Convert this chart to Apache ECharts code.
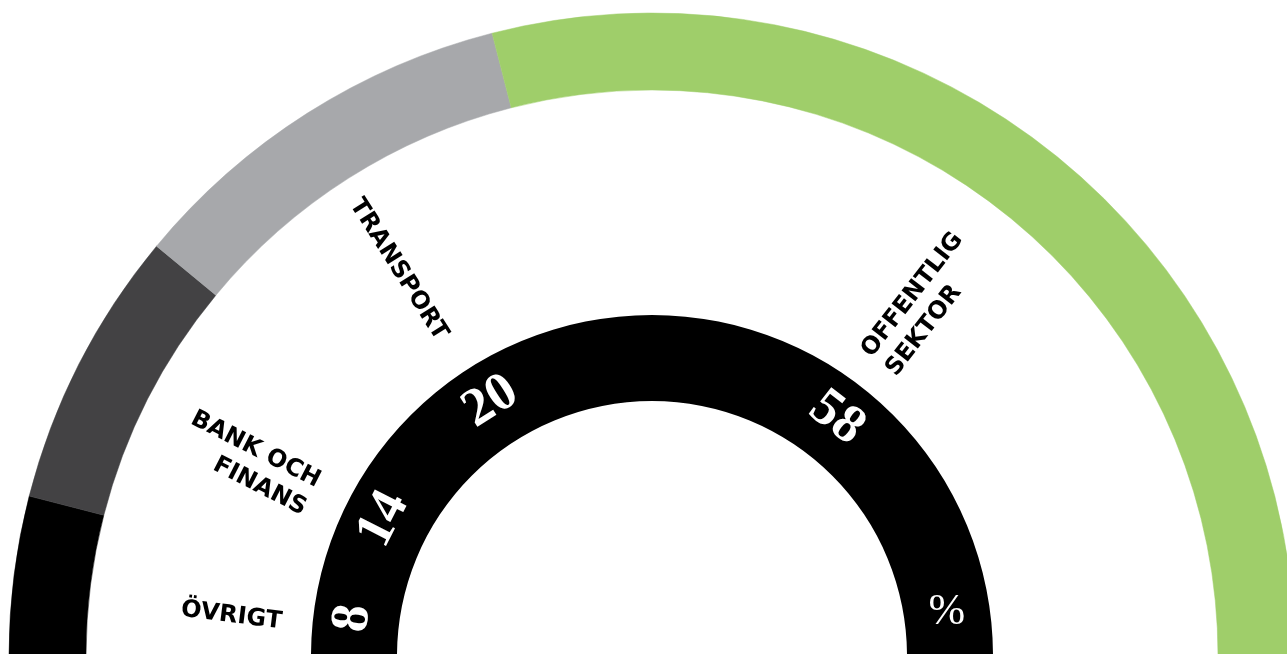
<!DOCTYPE html>
<html>
<head>
<meta charset="utf-8">
<script src="https://cdn.jsdelivr.net/npm/echarts@6/dist/echarts.min.js"></script>
<style>
html,body{margin:0;padding:0;background:#ffffff;}
#chart{width:1287px;height:654px;}
</style>
</head>
<body>
<div id="chart"></div>
<script>
// ---- data ----
const categories = ['ÖVRIGT', 'BANK OCH\nFINANS', 'TRANSPORT', 'OFFENTLIG\nSEKTOR'];
const values = [8, 14, 20, 58];
const colors = ['#000000', '#434244', '#a7a8ab', '#9fce6a'];
const unitLabel = '%';

// ---- layout constants ----
const CX = 652, CY = 656;
const OUTER_R = [566, 643];
const INNER_R = [255, 341];
const UNIT_ANGLE = 8.5;   // degrees above right horizontal
const LEFT_SHIFT = 13;    // px shift of left-side labels, perpendicular to text

const total = values.reduce((a, b) => a + b, 0);
let cum = 0;
const mids = values.map(v => { const m = (cum + v / 2) / total * 180; cum += v; return m; });

const chart = echarts.init(document.getElementById('chart'), null, {renderer: 'canvas'});
const midR = (INNER_R[0] + INNER_R[1]) / 2;
const ua = UNIT_ANGLE * Math.PI / 180;

const option = {
  animation: false,
  backgroundColor: '#ffffff',
  series: [
    {
      type: 'pie',
      center: [CX, CY],
      radius: OUTER_R,
      startAngle: 180,
      endAngle: 0,
      silent: true,
      label: {show: false},
      labelLine: {show: false},
      data: values.map((v, i) => ({value: v, name: categories[i], itemStyle: {color: colors[i], borderColor: colors[i], borderWidth: 0.5}}))
    },
    {
      // solid black inner ring (whole)
      type: 'pie',
      center: [CX, CY],
      radius: INNER_R,
      startAngle: 180,
      endAngle: 0,
      silent: true,
      label: {show: false},
      labelLine: {show: false},
      itemStyle: {color: '#000000'},
      data: [{value: total, name: 'total'}]
    },
    {
      type: 'pie',
      center: [CX, CY],
      radius: INNER_R,
      startAngle: 180,
      endAngle: 0,
      silent: true,
      avoidLabelOverlap: false,
      itemStyle: {color: 'rgba(0,0,0,0)'},
      label: {
        show: true,
        position: 'outside',
        formatter: '{b}',
        color: '#000000',
        fontFamily: 'DejaVu Sans',
        fontWeight: 'bold',
        fontSize: 24,
        lineHeight: 31,
        distanceToLabelLine: 0
      },
      labelLine: {show: false, length: 29, length2: 0},
      labelLayout: function (params) {
        const m = mids[params.dataIndex];
        if (m >= 90) return {};
        const th = m * Math.PI / 180;
        return {dx: -LEFT_SHIFT * Math.sin(th), dy: LEFT_SHIFT * Math.cos(th)};
      },
      data: values.map((v, i) => ({
        value: v, name: categories[i],
        label: {rotate: mids[i] < 90 ? -mids[i] : 180 - mids[i]}
      }))
    },
    {
      type: 'pie',
      center: [CX, CY],
      radius: INNER_R,
      startAngle: 180,
      endAngle: 0,
      silent: true,
      avoidLabelOverlap: false,
      itemStyle: {color: 'rgba(0,0,0,0)'},
      label: {
        show: true,
        position: 'inside',
        formatter: '{c}',
        color: '#ffffff',
        fontFamily: 'Liberation Serif',
        fontWeight: 'bold',
        fontSize: 54
      },
      labelLine: {show: false},
      data: values.map((v, i) => ({
        value: v, name: categories[i],
        label: {rotate: 90 - mids[i]}
      }))
    }
  ],
  graphic: [
    {
      type: 'text',
      z: 100,
      zlevel: 1,
      x: CX + midR * Math.cos(ua),
      y: CY - midR * Math.sin(ua),
      style: {
        text: unitLabel,
        fill: '#ffffff',
        fontFamily: 'Liberation Serif',
        fontSize: 44,
        align: 'center',
        verticalAlign: 'middle'
      }
    }
  ]
};
chart.setOption(option);
</script>
</body>
</html>
